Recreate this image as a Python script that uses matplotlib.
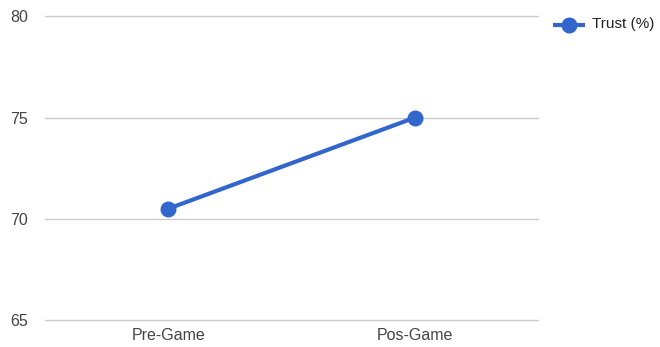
import matplotlib
matplotlib.use("Agg")
import matplotlib.pyplot as plt

plt.rcParams['font.family'] = ['Liberation Sans', 'DejaVu Sans']

# data
categories = ['Pre-Game', 'Pos-Game']
trust = [70.5, 75.0]
yticks = [65, 70, 75, 80]

fig = plt.figure(figsize=(6.6, 3.47), dpi=100)
ax = fig.add_axes([45 / 660, 27 / 347, 493 / 660, 303.5 / 347])

x = list(range(len(categories)))
ax.plot(x, trust, color='#3366cc', linewidth=3, marker='o', markersize=10.5,
        solid_capstyle='round', zorder=3, clip_on=False)

ax.set_xlim(-0.5, len(categories) - 0.5)
ax.set_ylim(65, 80)
ax.set_yticks(yticks)
ax.set_xticks(x)
ax.set_xticklabels(categories)
# horizontal gridlines, not clipped so the edge lines stay full width
for yv in yticks:
    ax.axhline(yv, color='#cccccc', linewidth=1, zorder=1, clip_on=False)
for s in ax.spines.values():
    s.set_visible(False)
ax.tick_params(length=0, labelsize=11.5, colors='#444444')
ax.tick_params(axis='y', pad=12)
ax.tick_params(axis='x', pad=6)

# legend
leg_ax = fig.add_axes([553 / 660, 310 / 347, 32 / 660, 24 / 347])
leg_ax.plot([0, 1], [0.5, 0.5], color='#3366cc', linewidth=3, solid_capstyle='butt')
leg_ax.plot([0.5], [0.5], color='#3366cc', marker='o', markersize=10.5)
leg_ax.set_xlim(0, 1)
leg_ax.set_ylim(0, 1)
leg_ax.axis('off')
fig.text(592 / 660, 1 - 24 / 347, 'Trust (%)', fontsize=11, color='#222222',
         va='center', ha='left')

fig.savefig('out.png', dpi=100)
